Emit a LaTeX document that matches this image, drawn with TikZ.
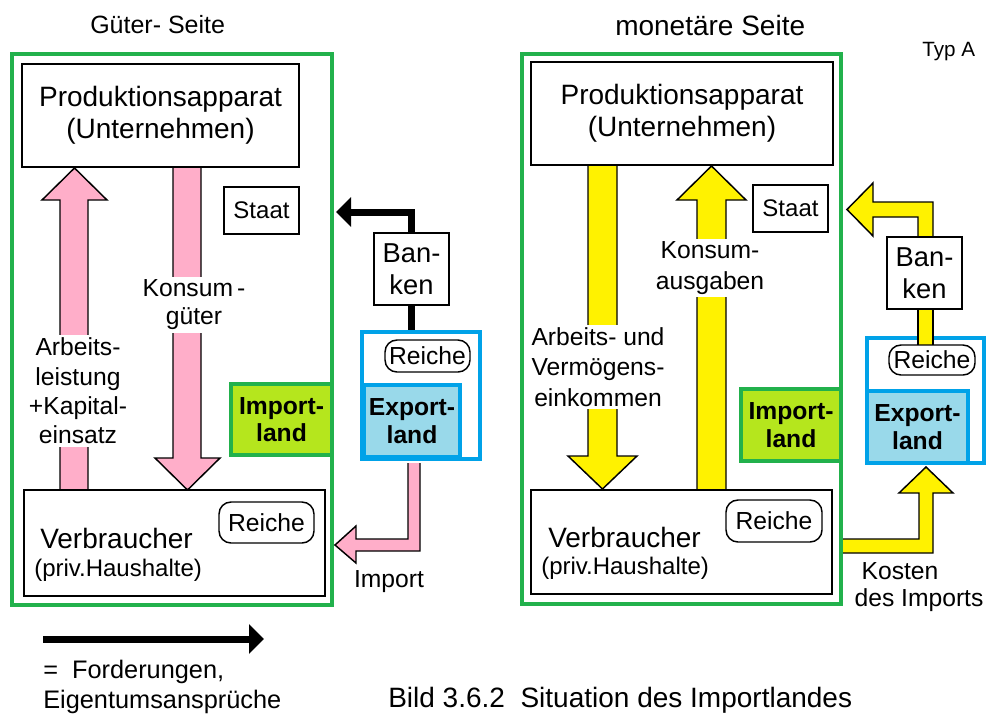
\documentclass[tikz,border=0pt]{standalone}
\usepackage{fontspec}
\setmainfont{Liberation Sans}
\usetikzlibrary{arrows.meta}
\definecolor{pinkF}{RGB}{255,174,201}
\definecolor{yelF}{RGB}{255,242,0}
\definecolor{limeF}{RGB}{181,230,29}
\definecolor{ltblue}{RGB}{153,217,234}
\definecolor{blueB}{RGB}{0,162,232}
\definecolor{greenB}{RGB}{34,177,76}
\newcommand\pu{*0.75pt}
\newcommand\fbig{\fontsize{21}{24}\selectfont}
\newcommand\fmid{\fontsize{18.5}{22}\selectfont}
\begin{document}
\begin{tikzpicture}[x=0.75pt,y=-0.75pt,
  bx/.style={draw=black, line width=1.1pt, fill=white, inner sep=0pt, align=center},
  rbox/.style={bx, rounded corners=9pt, font=\fmid},
  frameG/.style={draw=greenB, line width=3pt, inner sep=0pt},
  frameB/.style={draw=blueB, line width=3pt, inner sep=0pt},
  impbox/.style={draw=greenB, line width=3pt, fill=limeF, inner sep=0pt, align=center,
     font=\fontsize{18.5}{20.5}\selectfont\bfseries},
  expbox/.style={draw=blueB, line width=3pt, fill=ltblue, inner sep=0pt, align=center,
     font=\fontsize{18.5}{21.5}\selectfont\bfseries},
  fat/.style={draw=black, line width=1.1pt, line join=miter},
  lbl/.style={fill=white, inner sep=2pt, align=center, font=\fmid},
  txt/.style={inner sep=0pt, align=center},
  claim/.style={line width=5.25pt, -{Triangle[length=11.25pt,width=21.75pt]}}
]
\useasboundingbox (0,0) rectangle (986,715);

% ---------- titles ----------
\node[txt, anchor=west, font=\fontsize{18.75}{22}\selectfont] (titL) at (90,25) {Güter- Seite};
\node[txt, anchor=west, font=\fontsize{21}{24}\selectfont] (titR) at (615,25) {monetäre Seite};
\node[txt, anchor=west, font=\fontsize{15.5}{18}\selectfont] (typ) at (922,52) {Typ A};

% ---------- frames ----------
\node[frameG, minimum width=320\pu, minimum height=551\pu] (frameL) at (172,329.5) {};
\node[frameG, minimum width=319\pu, minimum height=550\pu] (frameR) at (681.5,329) {};
\node[frameB, minimum width=118\pu, minimum height=127\pu] (blueL) at (421,395.5) {};
\node[frameB, minimum width=117\pu, minimum height=125\pu] (blueR) at (925.5,400.5) {};

% ---------- left fat arrows ----------
\draw[fat, fill=pinkF] (60,490) -- (60,200) -- (42,200) -- (74.5,168) -- (107,200) -- (88,200) -- (88,490);
\draw[fat, fill=pinkF] (173,167) -- (173,458) -- (155,458) -- (187.5,490) -- (220,458) -- (201,458) -- (201,167);
\draw[fat, fill=pinkF] (408,463) -- (408,539) -- (356,539) -- (356,526) -- (335,545) -- (356,563) -- (356,551) -- (420,551) -- (420,463);

% ---------- right fat arrows ----------
\draw[fat, fill=yelF] (588,165) -- (588,456) -- (568,456) -- (602.5,489) -- (637,456) -- (617,456) -- (617,165);
\draw[fat, fill=yelF] (697,490) -- (697,200) -- (677,200) -- (711.5,166) -- (746,200) -- (726,200) -- (726,490);
\draw[fat, fill=yelF] (918,237) -- (918,217) -- (873,217) -- (873,236) -- (847,209.5) -- (873,183) -- (873,202) -- (933,202) -- (933,237);
\draw[fat, fill=yelF] (918,309) -- (918,346) -- (933,346) -- (933,309);
\draw[fat, fill=yelF] (843,539) -- (919,539) -- (919,493) -- (899,493) -- (926,467) -- (953,493) -- (933,493) -- (933,553) -- (843,553);

% ---------- left boxes ----------
\node[bx, minimum width=277\pu, minimum height=103\pu, font=\fbig] (prodL) at (160.5,115.5) {Produktionsapparat\\(Unternehmen)};
\node[bx, minimum width=75\pu, minimum height=47\pu, font=\fontsize{18}{21}\selectfont] (staatL) at (261.5,210.5) {Staat};
\node[impbox, minimum width=101\pu, minimum height=71\pu] (importL) at (281.5,419.5) {Import-\\land};
\node[bx, minimum width=301\pu, minimum height=106\pu] (verbL) at (174.5,543) {};
\node[txt, anchor=west, font=\fbig] (verbLt) at (40,538) {Verbraucher};
\node[txt, anchor=west, font=\fontsize{18}{21}\selectfont] (verbLs) at (34,570) {(priv.Haushalte)};
\node[rbox, minimum width=95\pu, minimum height=41\pu] (reicheL) at (266.5,522.5) {Reiche};
\node[bx, minimum width=75\pu, minimum height=72\pu, font=\fontsize{20.5}{24}\selectfont] (bankL) at (411.5,269) {Ban-\\ken};
\coordinate (tipL) at (336,212);
\draw[claim] (bankL.north) |- (tipL);
\draw[line width=5.25pt] (bankL.south) -- (bankL.south |- blueL.north);
\node[rbox, minimum width=85\pu, minimum height=32\pu] (reicheBL) at (427.5,356) {Reiche};
\node[expbox, minimum width=96\pu, minimum height=72\pu] (exportL) at (412,421) {Export-\\land};

% ---------- right boxes ----------
\node[bx, minimum width=302\pu, minimum height=103\pu, font=\fbig] (prodR) at (682,113.5) {Produktionsapparat\\(Unternehmen)};
\node[bx, minimum width=75\pu, minimum height=47\pu, font=\fontsize{18}{21}\selectfont] (staatR) at (790.5,208.5) {Staat};
\node[impbox, minimum width=100\pu, minimum height=72\pu] (importR) at (791,425) {Import-\\land};
\node[bx, minimum width=301\pu, minimum height=104\pu] (verbR) at (681.5,542) {};
\node[txt, anchor=west, font=\fbig] (verbRt) at (548,537) {Verbraucher};
\node[txt, anchor=west, font=\fontsize{18}{21}\selectfont] (verbRs) at (541,568) {(priv.Haushalte)};
\node[rbox, minimum width=96\pu, minimum height=42\pu] (reicheR) at (774,521) {Reiche};
\node[bx, minimum width=75\pu, minimum height=72\pu, font=\fontsize{20.5}{24}\selectfont] (bankR) at (924.5,273) {Ban-\\ken};
\node[rbox, minimum width=86\pu, minimum height=30\pu] (reicheBR) at (932,360) {Reiche};
\node[expbox, minimum width=101\pu, minimum height=72\pu] (exportR) at (917.5,427) {Export-\\land};

% ---------- arrow labels ----------
\node[lbl, font=\fontsize{18.5}{22}\selectfont] (lArb) at (78,391) {Arbeits-\\leistung\\+Kapital-\\einsatz};
\node[lbl, font=\fontsize{18.5}{21}\selectfont] (lKg) at (194,305) {Konsum\,-\\güter};
\node[txt, font=\fmid] (lImp) at (389,582) {Import};
\node[lbl, font=\fontsize{18.5}{23}\selectfont] (lAV) at (598,367) {Arbeits- und\\Vermögens-\\einkommen};
\node[lbl, font=\fontsize{18.5}{23}\selectfont] (lKa) at (710,268) {Konsum-\\ausgaben};
\node[txt, font=\fmid] (lKo) at (900,571) {Kosten};
\node[txt, font=\fmid] (lKo2) at (919,600) {des Imports};

% ---------- legend & caption ----------
\coordinate (legA) at (43,639);
\coordinate (legB) at (264,639);
\draw[claim] (legA) -- (legB);
\node[txt, anchor=west, font=\fontsize{19}{22}\selectfont] (leg1) at (43,672) {=\ \ Forderungen,};
\node[txt, anchor=west, font=\fontsize{19}{22}\selectfont] (leg2) at (43,702) {Eigentumsansprüche};
\node[txt, anchor=west, font=\fontsize{21}{24}\selectfont] (cap) at (388,700) {Bild 3.6.2\ \ Situation des Importlandes};
\end{tikzpicture}
\end{document}
